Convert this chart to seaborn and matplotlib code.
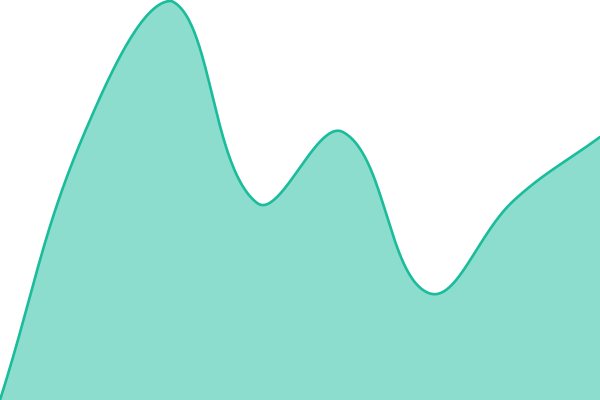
import numpy as np
import pandas as pd
import matplotlib
matplotlib.use("Agg")
import matplotlib.pyplot as plt
import seaborn as sns

# data (value scale 0..400)
positions = [0, 1, 2, 3, 4, 5, 6, 7]
values = [0, 270, 399, 197, 268, 107, 200, 263]

LINE_COLOR = "#1abc9c"
TENSION = 0.4
W, H = 600, 400


def spline(xs, ys, tension, sx, sy):
    # Chart.js style bezier spline, distances in pixel space,
    # control points kept inside the plot area
    px = np.array(xs, float) * sx
    py = np.array(ys, float) * sy
    n = len(px)
    cp_prev = []
    cp_next = []
    for i in range(n):
        p0 = (px[max(i - 1, 0)], py[max(i - 1, 0)])
        p1 = (px[i], py[i])
        p2 = (px[min(i + 1, n - 1)], py[min(i + 1, n - 1)])
        d01 = np.hypot(p1[0] - p0[0], p1[1] - p0[1])
        d12 = np.hypot(p2[0] - p1[0], p2[1] - p1[1])
        tot = d01 + d12
        s01 = d01 / tot if tot else 0
        s12 = d12 / tot if tot else 0
        fa, fb = tension * s01, tension * s12
        a = (p1[0] - fa * (p2[0] - p0[0]), p1[1] - fa * (p2[1] - p0[1]))
        b = (p1[0] + fb * (p2[0] - p0[0]), p1[1] + fb * (p2[1] - p0[1]))
        cp_prev.append((np.clip(a[0], 0, W), np.clip(a[1], 0, H)))
        cp_next.append((np.clip(b[0], 0, W), np.clip(b[1], 0, H)))
    t = np.linspace(0, 1, 60)[:, None]
    out = []
    for i in range(n - 1):
        a = np.array([px[i], py[i]])
        b = np.array(cp_next[i])
        c = np.array(cp_prev[i + 1])
        d = np.array([px[i + 1], py[i + 1]])
        seg = (1 - t) ** 3 * a + 3 * (1 - t) ** 2 * t * b + 3 * (1 - t) * t ** 2 * c + t ** 3 * d
        out.append(seg if i == 0 else seg[1:])
    pts = np.vstack(out)
    return pts[:, 0] / sx, pts[:, 1] / sy


sx = W / (len(positions) - 1)
sy = H / 400
cx, cy = spline(positions, values, TENSION, sx, sy)
curve = pd.DataFrame({"x": cx, "y": cy})

sns.set_style("white")
fig = plt.figure(figsize=(6, 4), dpi=100)
ax = fig.add_axes([0, 0, 1, 1])

ax.fill_between(curve["x"], curve["y"], 0, color=LINE_COLOR, alpha=0.5, linewidth=0)
sns.lineplot(data=curve, x="x", y="y", sort=False, estimator=None,
             color=LINE_COLOR, linewidth=1.9, ax=ax)

ax.set_xlim(0, 7)
ax.set_ylim(0, 400)
ax.axis("off")

fig.savefig("out.png", dpi=100)
